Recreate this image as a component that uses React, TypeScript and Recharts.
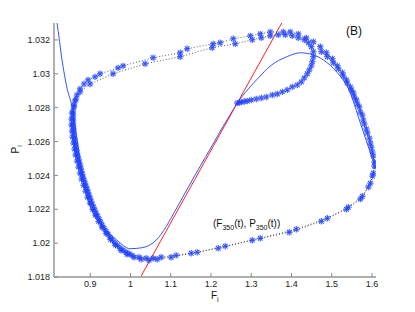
import React from 'react';
import { ComposedChart, Line, XAxis, YAxis } from 'recharts';

const xTicks = [0.9, 1.0, 1.1, 1.2, 1.3, 1.4, 1.5, 1.6];
const yTicks = [1.018, 1.02, 1.022, 1.024, 1.026, 1.028, 1.03, 1.032];
const xDomain = [0.81, 1.61];
const yDomain = [1.018, 1.033];

const nullF = [0.81, 0.8175, 0.8299, 0.8423, 0.8548, 0.8672, 0.8797, 0.8946, 0.9095, 0.9244, 0.9418, 0.9667, 0.9991, 1.0289, 1.0488, 1.0637, 1.0762, 1.0886, 1.1035, 1.121, 1.1409, 1.1632, 1.1856, 1.208, 1.2304, 1.2478, 1.2652, 1.2926, 1.3175, 1.3473, 1.3896, 1.4219, 1.4543, 1.4791, 1.514, 1.5463, 1.5662, 1.5861, 1.6085, 1.6135];
const nullP = [1.03401, 1.03301, 1.03082, 1.02916, 1.02804, 1.02609, 1.02402, 1.02254, 1.02165, 1.02118, 1.0207, 1.02017, 1.01967, 1.01973, 1.0199, 1.02017, 1.02053, 1.02097, 1.02159, 1.02233, 1.02319, 1.02413, 1.02505, 1.02597, 1.02691, 1.02759, 1.02827, 1.0291, 1.02975, 1.03046, 1.03102, 1.03124, 1.03112, 1.03082, 1.03006, 1.02887, 1.02745, 1.02603, 1.02449, 1.02413];

const redF = [1.0252, 1.3759];
const redP = [1.018, 1.033];

const trajF = [
  1.2652, 1.2702, 1.2752, 1.2826, 1.2901, 1.3, 1.3125, 1.3249, 1.3374, 1.3523,
  1.3647, 1.3772, 1.3896, 1.402, 1.4144, 1.4244, 1.4319, 1.4393, 1.4443, 1.4493,
  1.4518, 1.4543, 1.4543, 1.4493, 1.4418, 1.4319, 1.4169, 1.402, 1.3846, 1.3672,
  1.3473, 1.3249, 1.3025, 1.2603, 1.203, 1.1234, 1.0364, 0.9568, 0.8996, 0.8747,
  0.8647, 0.8597,
  0.8573, 0.8573, 0.8573, 0.8573, 0.8573, 0.8578, 0.8585, 0.859, 0.8597, 0.861,
  0.8622, 0.8635, 0.8647, 0.866, 0.8672, 0.869, 0.8709, 0.8727, 0.8747, 0.8764,
  0.8784, 0.8802, 0.8821, 0.8846, 0.8871, 0.8896, 0.8921, 0.8946, 0.8971, 0.8996,
  0.902, 0.905, 0.9083, 0.9112, 0.9145, 0.9182, 0.9219, 0.9257, 0.9294, 0.9344,
  0.9394, 0.9443, 0.9493, 0.9555, 0.9617, 0.968, 0.9742, 0.9816, 0.9891, 0.9966,
  1.004,
  1.0214, 1.0389, 1.0563, 1.0762,
  1.1135, 1.1657, 1.2354, 1.3224, 1.412, 1.4891, 1.5413, 1.5761, 1.596, 1.6035,
  1.606, 1.601, 1.596, 1.5886, 1.5811, 1.5761, 1.5687, 1.5612, 1.5538, 1.5463,
  1.5364, 1.5264, 1.514, 1.5015, 1.4866, 1.4717, 1.4543, 1.4369, 1.4169, 1.397,
  1.3796, 1.3473, 1.3224, 1.2976, 1.2553, 1.2229, 1.2055, 1.1408, 1.1234, 1.0563,
  0.9816, 0.9692, 0.9244, 0.912, 0.8946, 0.8846, 0.8747, 0.8672, 0.8622, 0.8597,
  0.8548, 0.8535, 0.8535, 0.8548, 0.856, 0.8585, 0.861, 0.8635, 0.8672, 0.8709,
  0.8747, 0.8784, 0.8834, 0.8884, 0.8933, 0.8996, 0.9058, 0.9132, 0.9207, 0.9294,
  0.9394, 0.9505, 0.963, 0.9767, 0.9916, 1.009, 1.0264, 1.0463, 1.0662, 1.101,
  1.1508, 1.218, 1.3025, 1.3946, 1.4742, 1.5364, 1.5712, 1.5911, 1.601, 1.606,
  1.6035, 1.5985, 1.5936, 1.5861, 1.5786, 1.5712, 1.5637, 1.5562, 1.5488, 1.5388,
  1.5289, 1.5165, 1.504, 1.4891, 1.4742,
];
const trajP = [
  1.02827, 1.0283, 1.02833, 1.02836, 1.02839, 1.02845, 1.02851, 1.02857, 1.02863, 1.02875,
  1.02881, 1.02893, 1.02905, 1.02923, 1.02934, 1.02952, 1.02976, 1.03, 1.03023, 1.03047,
  1.03071, 1.03101, 1.0313, 1.0316, 1.03183, 1.03201, 1.03212, 1.03224, 1.0323, 1.0323,
  1.03224, 1.03212, 1.03201, 1.03177, 1.03154, 1.03101, 1.03059, 1.03, 1.0294, 1.02893,
  1.02851, 1.02816,
  1.0278, 1.02762, 1.02745, 1.02727, 1.02709, 1.02691, 1.02674, 1.02656, 1.02638, 1.0262,
  1.02603, 1.02585, 1.02567, 1.02549, 1.02532, 1.02514, 1.02496, 1.02478, 1.02461, 1.02443,
  1.02425, 1.02407, 1.0239, 1.02372, 1.02354, 1.02336, 1.02319, 1.02301, 1.02283, 1.02266,
  1.02248, 1.0223, 1.02212, 1.02195, 1.02177, 1.02159, 1.02141, 1.02124, 1.02106, 1.02088,
  1.0207, 1.02053, 1.02035, 1.02017, 1.01999, 1.01985, 1.0197, 1.01958, 1.01946, 1.01937,
  1.01928,
  1.01917, 1.01911, 1.01911, 1.01917,
  1.01928, 1.01946, 1.01982, 1.02029, 1.02082, 1.02147, 1.02212, 1.02277, 1.02354, 1.02413,
  1.02478, 1.02538, 1.02591, 1.0265, 1.02703, 1.02756, 1.02804, 1.02845, 1.02887, 1.02922,
  1.02964, 1.03006, 1.03047, 1.03089, 1.03124, 1.0316, 1.03189, 1.03212, 1.03236, 1.03247,
  1.03247, 1.03247, 1.03236, 1.03224, 1.03207, 1.03183, 1.03177, 1.03148, 1.03124, 1.03095,
  1.03047, 1.03035, 1.03, 1.02982, 1.02964, 1.0294, 1.02911, 1.02875, 1.02839, 1.02804,
  1.02769, 1.02733, 1.02698, 1.02662, 1.02626, 1.02591, 1.02555, 1.0252, 1.02484, 1.02449,
  1.02413, 1.02378, 1.02342, 1.02307, 1.02271, 1.02236, 1.022, 1.02165, 1.02129, 1.02094,
  1.02058, 1.02023, 1.01988, 1.01958, 1.01934, 1.01917, 1.01905, 1.01899, 1.01905, 1.01917,
  1.0194, 1.0197, 1.02017, 1.02064, 1.02129, 1.022, 1.0226, 1.02331, 1.02396, 1.02455,
  1.02514, 1.02567, 1.0262, 1.02674, 1.02727, 1.02774, 1.02822, 1.02863, 1.02904, 1.02946,
  1.02987, 1.03029, 1.03065, 1.03101, 1.0313,
];

const nullData = nullF.map((F, i) => ({ F, P: nullP[i] }));
const redData = redF.map((F, i) => ({ F, P: redP[i] }));
const trajData = trajF.map((F, i) => ({ F, P: trajP[i] }));

const FONT = '"Liberation Sans", Arial, Helvetica, sans-serif';
const AXIS_COLOR = '#b0b0b0';
const MARK = '#2244ff';

const fmt = (v: number) => String(Number(v.toFixed(3)));

const Star = (props: any) => {
  const { cx, cy, index } = props;
  if (cx == null || cy == null) return null;
  const r = 3.2;
  const d = r * 0.72;
  return (
    <g key={'s' + index} stroke={MARK} strokeWidth={1.1} opacity={0.9}>
      <line x1={cx - r} y1={cy} x2={cx + r} y2={cy} />
      <line x1={cx} y1={cy - r} x2={cx} y2={cy + r} />
      <line x1={cx - d} y1={cy - d} x2={cx + d} y2={cy + d} />
      <line x1={cx - d} y1={cy + d} x2={cx + d} y2={cy - d} />
    </g>
  );
};

const XTick = (props: any) => {
  const { x, y, payload } = props;
  return (
    <g>
      <line x1={x} y1={y} x2={x} y2={y - 4} stroke="#888" strokeWidth={1} />
      <text x={x} y={y + 10} textAnchor="middle" fontSize={9} fontFamily={FONT} fill="#222">
        {fmt(payload.value)}
      </text>
    </g>
  );
};

const YTick = (props: any) => {
  const { x, y, payload } = props;
  return (
    <g>
      <line x1={x} y1={y} x2={x + 4} y2={y} stroke="#888" strokeWidth={1} />
      <text x={x - 4} y={y} dy="0.35em" textAnchor="end" fontSize={9} fontFamily={FONT} fill="#222">
        {fmt(payload.value)}
      </text>
    </g>
  );
};

export default function App() {
  return (
    <div style={{ position: 'relative', width: 400, height: 300 }}>
      <ComposedChart width={400} height={300} margin={{ top: 15, right: 32, bottom: 0, left: 0 }}>
        <XAxis
          dataKey="F"
          type="number"
          domain={xDomain}
          ticks={xTicks}
          interval={0}
          allowDataOverflow
          height={31}
          tickSize={0}
          tickMargin={0}
          tick={<XTick />}
          axisLine={{ stroke: AXIS_COLOR, strokeWidth: 2 }}
        />
        <YAxis
          dataKey="P"
          type="number"
          domain={yDomain}
          ticks={yTicks}
          interval={0}
          allowDataOverflow
          width={46}
          tickSize={0}
          tickMargin={0}
          tick={<YTick />}
          axisLine={{ stroke: AXIS_COLOR, strokeWidth: 2 }}
        />
        <Line data={nullData} dataKey="P" type="monotone" stroke="#3355ff" strokeWidth={1} dot={false} isAnimationActive={false} />
        <Line data={redData} dataKey="P" type="linear" stroke="#ff2222" strokeWidth={1} dot={false} isAnimationActive={false} />
        <Line
          data={trajData}
          dataKey="P"
          type="linear"
          stroke="#333"
          strokeWidth={0.8}
          strokeDasharray="1 2"
          dot={Star}
          isAnimationActive={false}
        />
      </ComposedChart>
      <svg
        width={400}
        height={304}
        style={{ position: 'absolute', left: 0, top: 0, pointerEvents: 'none', overflow: 'visible' }}
      >
        <text x={338} y={27} fontSize={12} fontFamily={FONT} fill="#111">(B)</text>
        <text x={205} y={218.5} fontSize={10} fontFamily={FONT} fill="#111">
          (F<tspan fontSize={7} dy={3}>350</tspan>
          <tspan dy={-3}>(t), P</tspan>
          <tspan fontSize={7} dy={3}>350</tspan>
          <tspan dy={-3}>(t))</tspan>
        </text>
        <text x={203} y={290.5} fontSize={10} fontFamily={FONT} fill="#111">
          F<tspan fontSize={7} dy={3}>i</tspan>
        </text>
        <text transform="translate(10.5,145.5) rotate(-90)" fontSize={10} fontFamily={FONT} fill="#111">
          P<tspan fontSize={7} dy={3}>i</tspan>
        </text>
      </svg>
    </div>
  );
}
